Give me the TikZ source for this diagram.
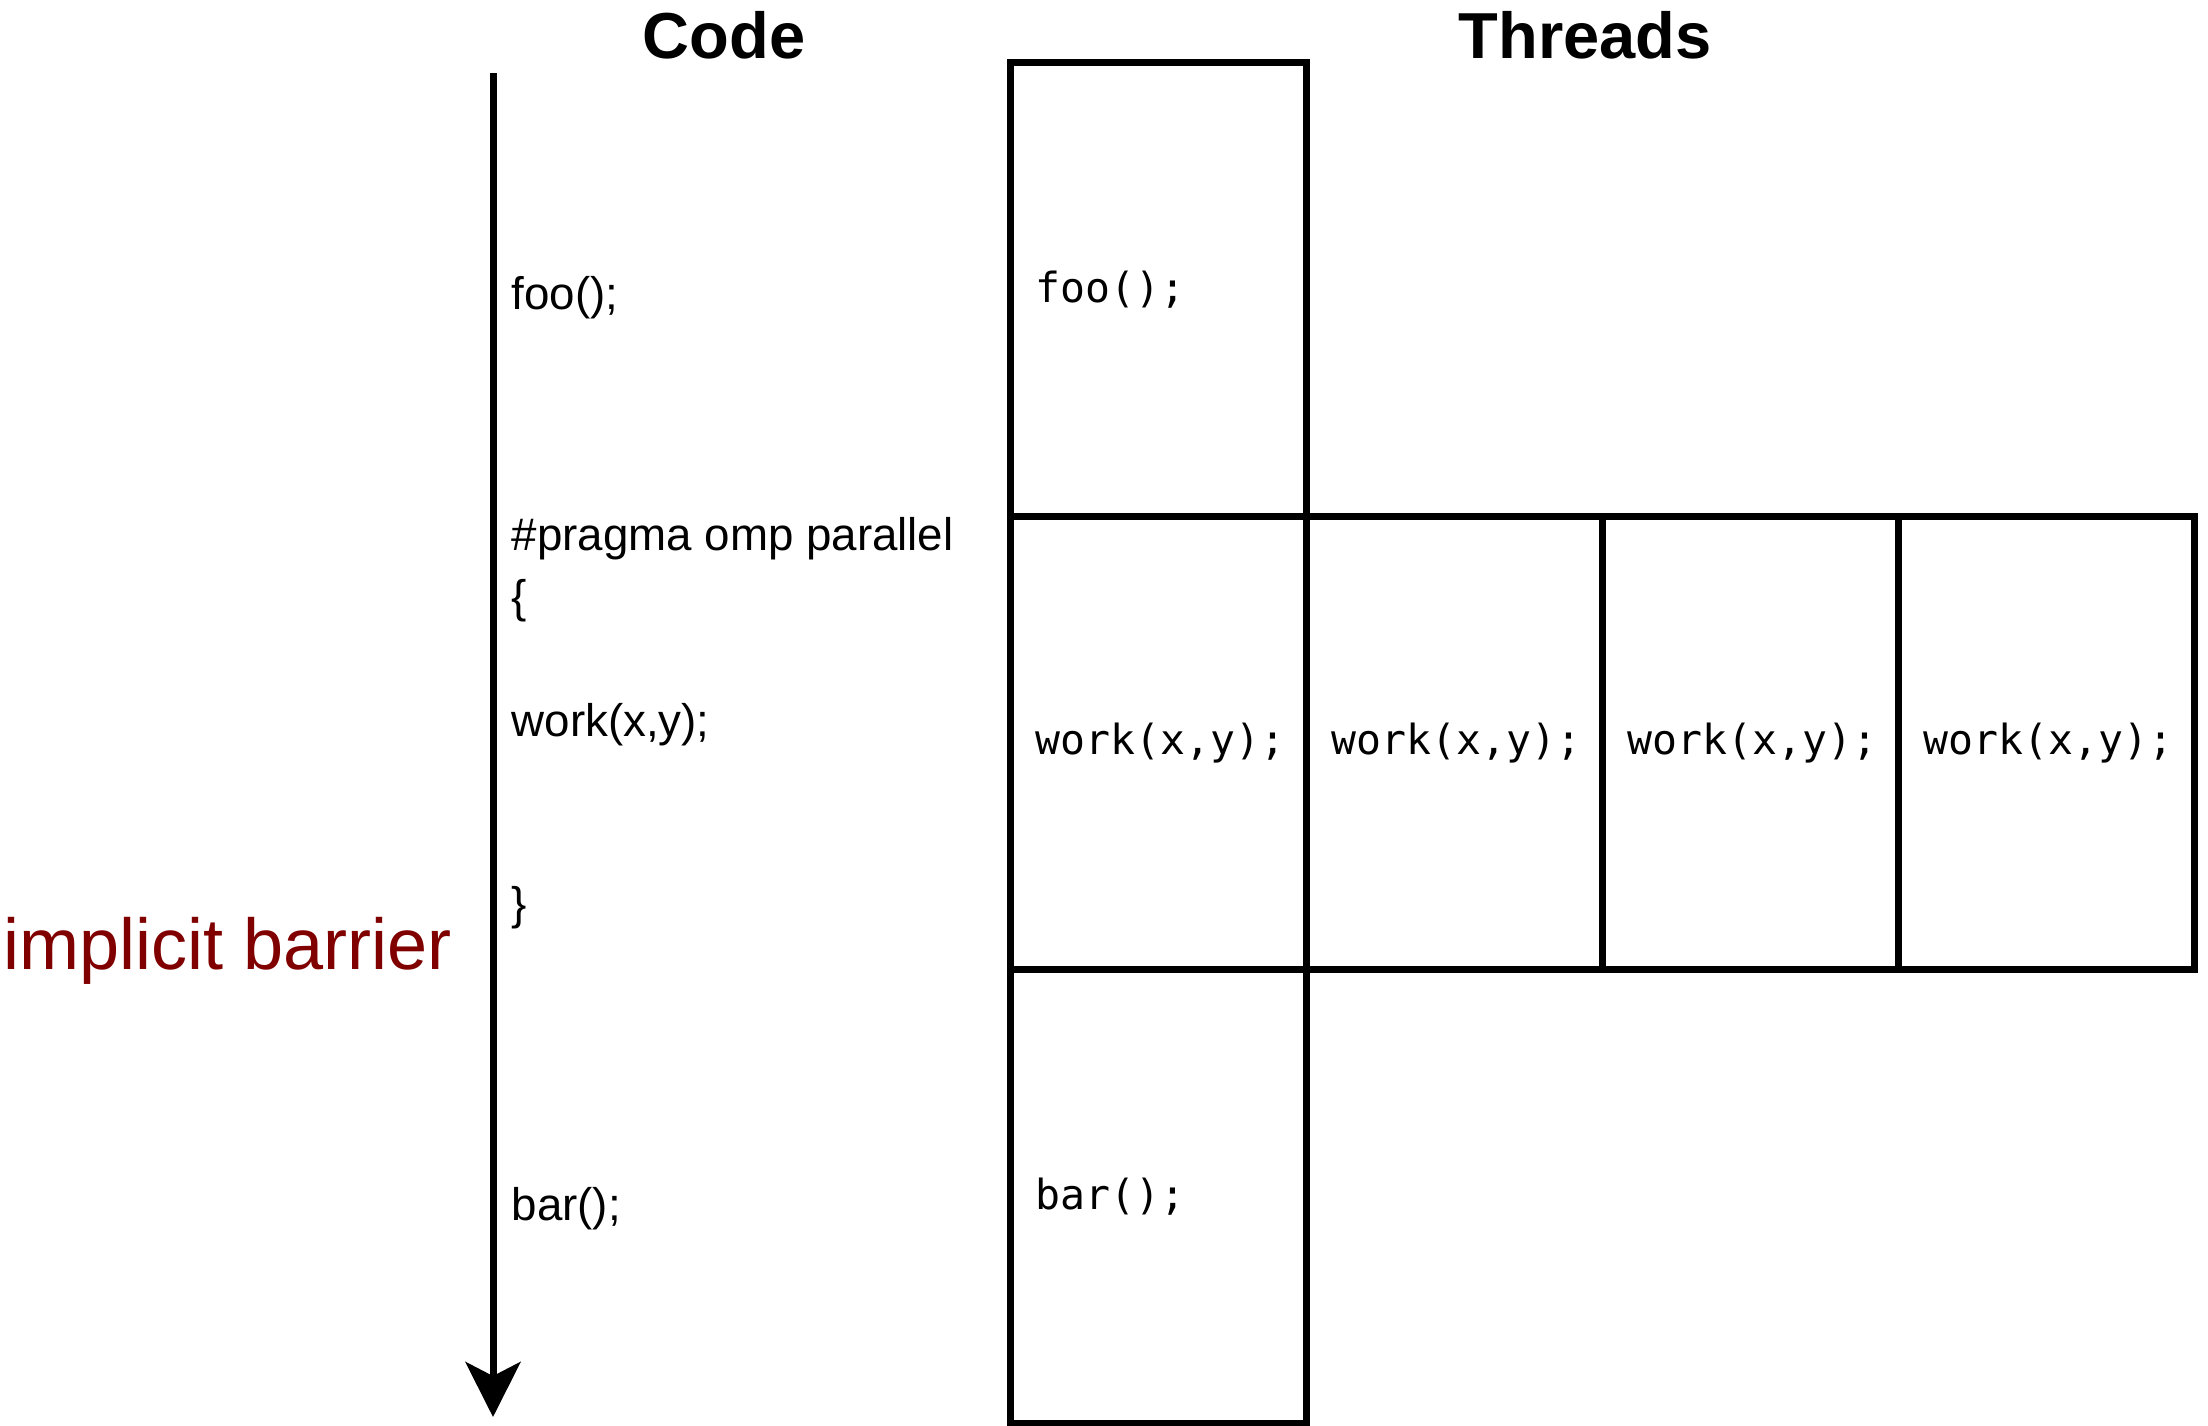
\documentclass[tikz,border=0pt]{standalone}
\usepackage{fontspec}
\setmainfont{Liberation Sans}
\newfontfamily\monofont{DejaVu Sans Mono}
\usetikzlibrary{positioning,arrows.meta}
\definecolor{barriercol}{HTML}{800000}
\tikzset{
  cell/.style={draw, line width=0.07cm, outer sep=0pt, minimum width=2.96cm,
    minimum height=4.535cm, text width=2.45cm, inner xsep=0.255cm, align=left,
    font=\monofont\fontsize{11.8}{14}\selectfont},
  codeline/.style={anchor=base west, inner sep=0pt, font=\fontsize{13}{15}\selectfont},
  title/.style={anchor=base, inner sep=0pt, font=\bfseries\fontsize{18.5}{22}\selectfont},
  flow/.style={line width=0.07cm, -{Stealth[length=0.55cm,width=0.55cm,inset=0.14cm]}}
}
\begin{document}
\begin{tikzpicture}
    \useasboundingbox (0,0) rectangle (22.08,-14.26);

    % Titoli
    \node[title] (codetitle) at (7.24,-0.58) {Code};
    \node[title] (threadtitle) at (15.85,-0.58) {Threads};

    % Asse del tempo
    \coordinate (start) at (4.93,-0.73);
    \coordinate (stop) at (4.93,-14.17);
    \draw[flow] (start) -- (stop);

    % Righe di codice
    \node[codeline] (cfoo) at (5.11,-3.09) {foo();};
    \node[codeline] (cpragma) at (5.11,-5.50) {\#pragma omp parallel};
    \node[codeline] (copen) at (5.11,-6.12) {\{};
    \node[codeline] (cwork) at (5.11,-7.36) {work(x,y);};
    \node[codeline] (cclose) at (5.11,-9.19) {\}};
    \node[codeline] (cbar) at (5.11,-12.20) {bar();};

    \node[anchor=base west, inner sep=0pt, text=barriercol,
      font=\fontsize{20.5}{24}\selectfont] (barrier) at (0.03,-9.69) {implicit barrier};

    % Thread: parte seriale e parte parallela
    \node[cell] (tfoo) at (11.58,-2.895) {\raisebox{0.04cm}{foo();}};
    \node[cell, below=0pt of tfoo] (twork1) {work(x,y);};
    \foreach \i [remember=\i as \j (initially 1)] in {2,3,4}
        \node[cell, right=0pt of twork\j] (twork\i) {work(x,y);};
    \node[cell, below=0pt of twork1] (tbar) {bar();};
\end{tikzpicture}
\end{document}
